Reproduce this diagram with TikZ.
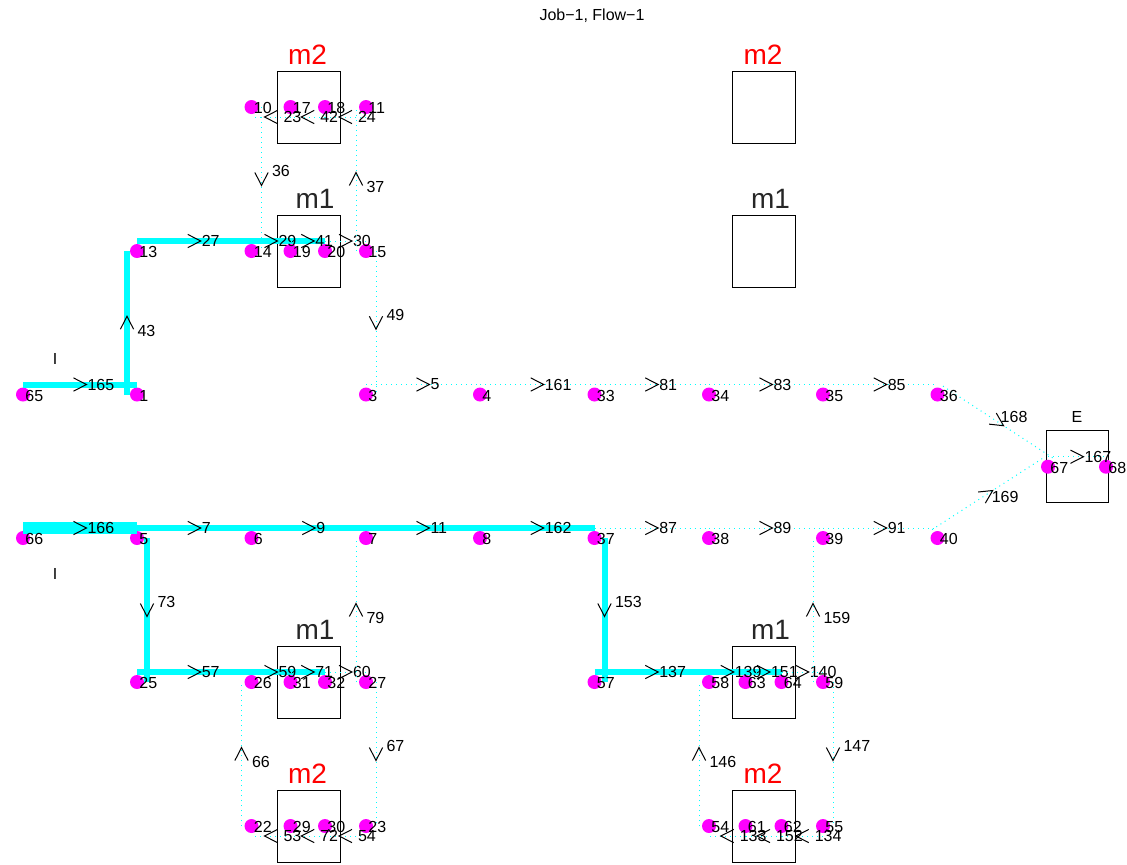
\documentclass[tikz,border=0pt]{standalone}
\usepackage{fontspec}
\setmainfont{Liberation Sans}
\usetikzlibrary{calc}
\usetikzlibrary{decorations.markings}
\definecolor{flowcyan}{RGB}{0,255,255}
\definecolor{stnmag}{RGB}{255,0,255}
\definecolor{mred}{RGB}{255,0,0}
\definecolor{mgray}{RGB}{38,38,38}

\begin{document}
\begin{tikzpicture}[x=0.5pt, y=-0.5pt,
    stn/.style={circle, fill=stnmag, inner sep=0pt, minimum size=7pt},
    nlab/.style={font=\fontsize{8}{9}\selectfont, anchor=west, inner sep=0pt},
    mach/.style={draw, line width=0.5pt, minimum width=31.5pt,
                 minimum height=36pt, inner sep=0pt},
    mlab/.style={font=\fontsize{14}{16}\selectfont, inner sep=0pt},
    flow/.style={draw=flowcyan, line width=3pt},
    lane/.style={draw=flowcyan, dotted, line width=0.5pt,
      postaction={decorate, decoration={markings, mark=at position 0.5 with
        {\draw[draw=black, solid, line width=0.5pt]
           (-3.25pt,3.3pt) -- (3.25pt,0pt) -- (-3.25pt,-3.3pt);}}}},
    rlab/.style={nlab, xshift=3.5pt},
    llab/.style={nlab, xshift=6pt},
    dlab/.style={nlab, xshift=5pt, yshift=4pt},
    ulab/.style={nlab, xshift=5pt, yshift=-4pt}]
  \useasboundingbox (0,0) rectangle (1127,864);
  % title and end labels
  \node[nlab, anchor=center] (title) at (592,16) {Job−1, Flow−1};
  \node[nlab, anchor=center] (inA) at (55,359) {I};
  \node[nlab, anchor=center] (inB) at (55,574) {I};
  % machines
  \foreach \i/\x/\y in {a/308.5/107, c/764/107, f/308.5/826, h/764/826} {
    \node[mach] (box\i) at (\x,\y) {};
    \node[mlab, mred, xshift=-0.5pt, yshift=8pt] (lab\i) at (box\i.north) {m2};
  }
  \foreach \i/\x/\y in {b/308.5/251, d/764/251, e/308.5/682, g/764/682} {
    \node[mach] (box\i) at (\x,\y) {};
    \node[mlab, mgray, xshift=3.25pt, yshift=8pt] (lab\i) at (box\i.north) {m1};
  }
  \node[mach, minimum width=31pt, minimum height=35.75pt] (boxE) at (1077,466.5) {};
  \node[nlab, anchor=center] (labE) at (1077,417) {E};
  % stations
  \foreach \n/\x/\y in {10/251.5/107, 17/290.5/107, 18/325/107, 11/366/107,
      13/137/251, 14/251.5/251, 19/290.5/251, 20/325/251, 15/366/251,
      65/23/394.5, 1/137/394.5, 3/366/394.5, 4/480/394.5, 33/594.5/394.5,
      34/709/394.5, 35/823/394.5, 36/937.5/394.5,
      67/1048/466.7, 68/1106/466.7,
      66/23/538, 5/137/538, 6/251.5/538, 7/366/538, 8/480/538,
      37/594.5/538, 38/709/538, 39/823/538, 40/937.5/538,
      25/137/682, 26/251.5/682, 31/290.5/682, 32/325/682, 27/366/682,
      57/594.5/682, 58/709/682, 63/745.5/682, 64/781.5/682, 59/823/682,
      22/251.5/826, 29/290.5/826, 30/325/826, 23/366/826,
      54/709/826, 61/745.5/826, 62/781.5/826, 55/823/826}
    \node[stn] (n\n) at (\x,\y) {};
  % the flow, thick
  \foreach \a/\b in {65/1, 1/13, 13/14, 14/19, 19/20, 5/6, 6/7, 7/8, 8/37,
                     37/57, 57/58, 58/63, 63/64, 5/25, 25/26, 26/31, 31/32}
    \draw[flow] ($(n\a.center)!5pt!90:(n\b.center)$) --
      ($(n\b.center)!5pt!-90:(n\a.center)$);
  \draw[flow, line width=6pt] ($(n66.center)!5pt!90:(n5.center)$) --
    ($(n5.center)!5pt!-90:(n66.center)$);
  % arcs to the right
  \foreach \a/\b/\w in {65/1/165, 66/5/166, 13/14/27, 14/19/29, 19/20/41,
      20/15/30, 3/4/5, 4/33/161, 33/34/81, 34/35/83, 35/36/85, 67/68/167,
      5/6/7, 6/7/9, 7/8/11, 8/37/162, 37/38/87, 38/39/89, 39/40/91,
      25/26/57, 26/31/59, 31/32/71, 32/27/60,
      57/58/137, 58/63/139, 63/64/151, 64/59/140}
    \draw[lane] ($(n\a.center)!5pt!90:(n\b.center)$) -- node[rlab] (e\w) {\w}
      ($(n\b.center)!5pt!-90:(n\a.center)$);
  % arcs to the left
  \foreach \a/\b/\w in {11/18/24, 18/17/42, 17/10/23, 23/30/54, 30/29/72,
      29/22/53, 55/62/134, 62/61/152, 61/54/133}
    \draw[lane] ($(n\a.center)!5pt!90:(n\b.center)$) -- node[llab] (e\w) {\w}
      ($(n\b.center)!5pt!-90:(n\a.center)$);
  % arcs down
  \foreach \a/\b/\w in {10/14/36, 15/3/49, 5/25/73, 37/57/153, 27/23/67,
      59/55/147}
    \draw[lane] ($(n\a.center)!5pt!90:(n\b.center)$) -- node[dlab] (e\w) {\w}
      ($(n\b.center)!5pt!-90:(n\a.center)$);
  % arcs up
  \foreach \a/\b/\w in {15/11/37, 1/13/43, 27/7/79, 22/26/66, 59/39/159,
      54/58/146}
    \draw[lane] ($(n\a.center)!5pt!90:(n\b.center)$) -- node[ulab] (e\w) {\w}
      ($(n\b.center)!5pt!-90:(n\a.center)$);
  % arcs into E
  \draw[lane] ($(n36.center)!5pt!90:(n67.center)$) --
    node[nlab, xshift=1pt, yshift=2.5pt] (e168) {168}
    ($(n67.center)!5pt!-90:(n36.center)$);
  \draw[lane] ($(n40.center)!5pt!90:(n67.center)$) --
    node[nlab, xshift=2pt, yshift=-1.5pt] (e169) {169}
    ($(n67.center)!5pt!-90:(n40.center)$);
  % station numbers
  \foreach \n in {10, 17, 18, 11, 13, 14, 19, 20, 15, 65, 1, 3, 4, 33, 34,
      35, 36, 67, 68, 66, 5, 6, 7, 8, 37, 38, 39, 40, 25, 26, 31, 32, 27,
      57, 58, 63, 64, 59, 22, 29, 30, 23, 54, 61, 62, 55}
    \node[nlab, xshift=1pt, yshift=-0.5pt] (t\n) at (n\n) {\n};
\end{tikzpicture}
\end{document}
